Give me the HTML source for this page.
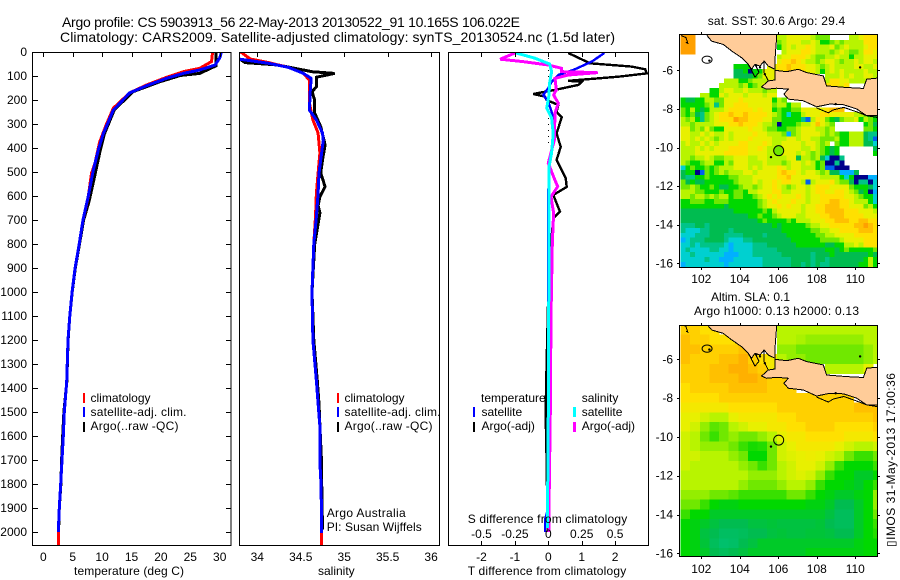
<!DOCTYPE html>
<html lang="en">
<head>
<meta charset="utf-8">
<title>Argo profile</title>
<style>
html,body{margin:0;padding:0;background:#fff;}
svg{display:block;}
text{font-family:"Liberation Sans",Arial,sans-serif;font-size:12px;fill:#000;}
</style>
</head>
<body>
<svg id="plot" xmlns="http://www.w3.org/2000/svg" width="900" height="580" viewBox="0 0 900 580">
<defs>
<clipPath id="clip-temp"><rect x="33" y="53" width="198" height="492"/></clipPath>
<clipPath id="clip-sal"><rect x="240" y="53" width="199" height="492"/></clipPath>
<clipPath id="clip-diff"><rect x="449" y="53" width="199" height="492"/></clipPath>
<clipPath id="clip-sst"><rect x="680" y="35" width="197" height="232"/></clipPath>
<clipPath id="clip-sla"><rect x="680" y="326" width="197" height="230"/></clipPath>
</defs>
<rect width="900" height="580" fill="#fff"/>
<text x="62" y="27" font-size="14" style="font-size:14px" textLength="458" lengthAdjust="spacing">Argo profile: CS 5903913_56 22-May-2013 20130522_91 10.165S 106.022E</text>
<text x="60" y="42" style="font-size:14px" textLength="555" lengthAdjust="spacing">Climatology: CARS2009. Satellite-adjusted climatology: synTS_20130524.nc (1.5d later)</text>

<g id="g-temp"></g>
<g id="g-sal"></g>
<g id="g-diff"></g>
<g id="g-sst"></g>
<g id="g-sla"></g>

<text x="74" y="575" textLength="110" lengthAdjust="spacing">temperature (deg C)</text>
<text x="318" y="575">salinity</text>
<text x="467.7" y="523" textLength="159.5" lengthAdjust="spacing">S difference from climatology</text>
<text x="467.7" y="575" textLength="158.5" lengthAdjust="spacing">T difference from climatology</text>

<g>
<rect x="83" y="393" width="2" height="10" fill="#ff0000"/>
<rect x="83" y="407" width="2" height="10" fill="#0000ff"/>
<rect x="83" y="422" width="2" height="10" fill="#000"/>
<text x="90.5" y="402">climatology</text>
<text x="90.5" y="416" textLength="96" lengthAdjust="spacing">satellite-adj. clim.</text>
<text x="90.5" y="430" textLength="88" lengthAdjust="spacing">Argo(..raw -QC)</text>
</g>
<g>
<rect x="337" y="393" width="2" height="10" fill="#ff0000"/>
<rect x="337" y="407" width="2" height="10" fill="#0000ff"/>
<rect x="337" y="422" width="2" height="10" fill="#000"/>
<text x="344.5" y="402">climatology</text>
<text x="344.5" y="416" textLength="96" lengthAdjust="spacing">satellite-adj. clim.</text>
<text x="344.5" y="430" textLength="88" lengthAdjust="spacing">Argo(..raw -QC)</text>
</g>
<text x="326.7" y="517" textLength="79" lengthAdjust="spacing">Argo Australia</text>
<text x="326.7" y="531" textLength="95" lengthAdjust="spacing">PI: Susan Wijffels</text>

<g id="diff-legend">
<text x="481" y="402">temperature</text>
<rect x="473" y="407" width="2" height="10" fill="#0000ff"/>
<rect x="473" y="422" width="2" height="10" fill="#000"/>
<text x="481.5" y="416">satellite</text>
<text x="481.5" y="430">Argo(-adj)</text>
<text x="581.7" y="402">salinity</text>
<rect x="573" y="407" width="3" height="10" fill="#00ffff"/>
<rect x="573" y="422" width="3" height="10" fill="#ff00ff"/>
<text x="581.7" y="416">satellite</text>
<text x="581.7" y="430">Argo(-adj)</text>
</g>

<text x="707.7" y="25" textLength="137.5" lengthAdjust="spacing">sat. SST: 30.6  Argo: 29.4</text>
<text x="711" y="301" textLength="79" lengthAdjust="spacing">Altim. SLA: 0.1</text>
<text x="694" y="315" textLength="165" lengthAdjust="spacing">Argo h1000: 0.13 h2000: 0.13</text>
<text transform="translate(895,547) rotate(-90)" textLength="174" lengthAdjust="spacing" style="font-family:'Liberation Sans','DejaVu Sans',sans-serif">▯IMOS 31-May-2013 17:00:36</text>
</svg>

<script>
const depthTicks = [0,100,200,300,400,500,600,700,800,900,1000,1100,1200,1300,1400,1500,1600,1700,1800,1900,2000];
const tempTicks = [0,5,10,15,20,25,30];
const salTicks = [34,34.5,35,35.5,36];
const salTickLabels = ['34','34.5','35','35.5','36'];
const tDiffTicks = [-2,-1,0,1,2];
const sDiffTicks = [-0.5,-0.25,0,0.25,0.5];
const sDiffTickLabels = ['-0.5','-0.25','0','0.25','0.5'];
const lonTicks = [102,104,106,108,110];
const latTicks = [-6,-8,-10,-12,-14,-16];

const climTempDepth = [0,40,68,82,105,137,170,234,297,374,463,505,603,700,800,900,1000,1100,1200,1374,1500,1600,1700,1800,1900,2000,2054];
const climTempValue = [28.8,28.6,26.6,23.8,21,17.6,14.7,11.9,10.8,9.6,8.8,8.2,7.65,6.75,6.1,5.4,4.9,4.5,4.2,3.98,3.57,3.4,3.18,2.96,2.72,2.55,2.55];
const satTempDepth = [0,25,54,75,89,109,140,170,242,340,408,492,600,700,800,900,1000,1100,1200,1374,1500,1600,1700,1800,1900,2000];
const satTempValue = [30.3,30,29.2,26.6,23.8,21,17.6,14.7,11.9,10.2,9.35,8.5,7.65,6.75,6.1,5.4,4.9,4.5,4.2,3.98,3.57,3.4,3.18,2.96,2.72,2.55];
const argoTempDepth = [0,57,89,98,124,165,240,340,420,520,620,700,800,900,1000,1100,1200,1374,1500,1600,1700,1800,1900,1990];
const argoTempValue = [29.4,29.4,26.6,23.3,19.8,15.3,12.1,10.4,9.6,8.7,7.8,6.85,6.15,5.45,4.92,4.5,4.22,4,3.5,3.3,3.12,3,2.72,2.6];

const climSalDepth = [0,29,44,64,89,117,213,283,338,421,505,588,686,800,1000,1200,1370,1465,1560,1715,1770,1922,2054];
const climSalValue = [33.81,33.92,34.13,34.36,34.53,34.6,34.6,34.64,34.7,34.72,34.7,34.68,34.67,34.65,34.63,34.64,34.68,34.7,34.72,34.72,34.73,34.74,34.74];
const satSalDepth = [30,47,64,89,110,158,242,283,338,367,450,505,588,686,800,1000,1200,1370,1465,1560,1715,1770,1922,2004];
const satSalValue = [33.8,34.13,34.36,34.53,34.62,34.61,34.6,34.68,34.75,34.76,34.73,34.71,34.7,34.68,34.65,34.63,34.64,34.68,34.7,34.72,34.72,34.73,34.74,34.74];
const argoSalDepth = [30,44,54,68,82,89,105,145,165,200,255,311,387,450,505,561,603,640,671,800,1000,1200,1370,1465,1560,1715,1770,1990];
const argoSalValue = [33.8,33.86,34.24,34.43,34.63,34.89,34.68,34.68,34.63,34.66,34.66,34.73,34.78,34.75,34.73,34.78,34.72,34.7,34.72,34.66,34.63,34.65,34.69,34.71,34.72,34.74,34.74,34.75];

const argoDiffDepth = [4,47,61,72,89,103,120,124,137,155,175,186,200,221,249,272,339,395,450,526,562,596,665,692,800,1000,1300,1500,1700,2000];
const argoDiffValue = [0.6,1.25,2.5,2.9,2.95,2.1,0.6,1,0.9,0.3,-0.45,-0.1,-0.05,0.3,0.25,0.4,0.25,0.37,0.25,0.52,0.55,0.15,0.35,0.15,0.08,0,-0.05,-0.08,-0.05,-0.02];
const satDiffDepth = [4,40,75,96,124,150,179,207,249,311,380,463,600,1000,1900,1950,2000];
const satDiffValue = [1.68,1.3,0.75,0.3,0.1,0,-0.15,0,0.1,0.2,0.15,0.02,0,0,0,-0.1,-0.1];
const argoSalDiffDepth = [4,30,40,54,68,82,86,96,110,158,179,213,255,367,463,520,561,603,671,800,1100,1500,1900,2000];
const argoSalDiffValue = [-0.25,-0.36,-0.19,0,0.1,0.1,0.37,0.15,0.05,0.06,0.04,0.075,0.05,0.045,0,0.04,0.07,0.02,0.04,0.03,0.02,0.015,0.005,0.005];
const satSalDiffDepth = [4,26,50,82,130,180,234,275,339,421,479,800,1500,1983];
const satSalDiffValue = [-0.24,-0.1,0.01,0.025,0.01,0.005,-0.012,0.025,0.037,0.025,0.005,0.005,0,-0.007];
const zeroLineDepths = [0,400];
const zeroLineValues = [0,0];

const sumatraLon = [102.36,102.54,103.14,103.58,104.1,104.44,104.61,104.79,105.05,105.26,105.48,105.83,105.83,105.91,105.91,102.2];
const sumatraLat = [-4.28,-4.49,-4.66,-5,-5.35,-5.69,-5.95,-5.69,-5.78,-5.52,-5.78,-5.95,-5.43,-4.32,-4,-4];
const javaLon = [105.83,106.43,107.04,107.47,108.34,108.51,109.55,110.42,110.59,111.11,111.3,111.3,110.59,110.07,109.38,108.68,107.99,107.3,106.52,106.29,106.52,105.91,105.39,105.13,105.48,105.83];
const javaLat = [-6,-6.07,-5.95,-6.12,-6.29,-6.81,-6.89,-6.94,-6.46,-6.41,-6.41,-8.35,-8.35,-8,-7.78,-7.75,-7.89,-7.58,-7.49,-7.23,-6.98,-6.93,-6.98,-6.86,-6.55,-6.5];
const southCoastLon = [107.99,108.6,108.85,109.4,110.07,110.6,111.2];
const southCoastLat = [-7.95,-8.2,-8.05,-7.92,-8.15,-8.35,-8.45];
const straitCoastLon = [105.26,105.26,105.48,105.13];
const straitCoastLat = [-5.52,-6.12,-6.55,-6.86];
const bayCoastLon = [104.44,104.79,105,104.79];
const bayCoastLat = [-5.69,-6.35,-6.1,-5.69];
const nwCoastLon = [100.95,101.2,101.3,101.2];
const nwCoastLat = [-4.2,-4.3,-4.6,-4.55];
const blobLon = [102.42,104.85,105.05,105.62,108.98,110.25,105.3];
const blobLat = [-5.5,-5.75,-5.85,-10.5,-7.75,-5.85,-6.2];
const argoLon = [106.02];
const argoLat = [-10.165];
const islandLon = [102.3];
const islandLat = [-5.45];

const paletteStops = ['#00008b','#0060f0','#00b0ff','#00d0d0','#00c488','#00bc50','#00d800','#70e800','#b8f400','#e8f000','#ffe000','#ffc000','#ffa000'];

const _ = null;
const sstLevels = [
[12,12,12,_,_,_,_,_,_,_,_,_,_,_,_,_,_,_,_,_,8,8,9,9,9,9,9,8,7,7,7,_,_,_,_,8,8,9,10,10,10],
[12,12,12,_,_,_,_,_,_,_,_,_,_,_,_,_,_,_,_,_,7,8,9,9,9,8,8,9,8,6,6,7,8,7,8,8,8,8,10,10,10],
[12,12,12,_,_,_,_,_,_,_,_,_,_,_,_,_,_,_,_,_,6,8,9,8,9,9,10,9,8,8,8,9,7,8,9,8,8,8,9,10,10],
[12,12,12,_,_,_,_,_,_,_,_,_,_,_,_,_,_,_,_,_,_,8,9,9,9,10,10,9,8,8,8,7,8,9,8,7,7,8,10,10,9],
[_,_,_,_,_,_,_,_,_,_,_,_,_,_,_,_,_,_,_,_,8,9,9,10,10,10,9,8,7,7,8,8,9,8,8,6,8,8,9,9,9],
[_,_,_,_,_,_,_,_,_,_,_,_,_,_,_,_,_,_,_,_,9,10,10,11,10,9,8,8,7,8,9,9,8,7,8,8,9,8,9,9,8],
[_,_,_,_,_,_,_,_,_,_,_,6,6,6,6,_,_,_,9,9,10,10,11,10,10,10,9,9,8,7,8,9,8,8,8,8,9,9,8,8,9],
[_,_,_,_,_,_,_,_,_,_,_,5,5,6,0,6,6,9,9,9,10,10,11,10,10,10,9,9,8,6,8,9,8,9,8,8,8,8,9,8,8],
[_,_,_,_,_,_,_,_,_,_,_,5,5,5,5,6,7,9,9,9,_,_,_,_,_,_,_,_,_,_,8,8,8,9,8,9,8,8,9,9,8],
[_,_,_,_,_,_,_,_,_,8,8,8,6,6,7,8,8,8,9,9,_,_,_,_,_,_,_,_,_,_,8,10,10,9,9,8,8,8,8,_,_],
[_,_,_,_,_,_,_,_,8,8,8,8,7,8,6,7,8,9,9,9,_,_,_,_,_,_,_,_,_,_,10,10,10,9,10,_,_,_,_,_,_],
[_,_,_,_,_,_,6,6,8,9,9,8,8,9,8,8,8,7,8,8,_,_,_,_,_,_,_,_,_,_,_,_,_,_,_,_,_,_,_,_,_],
[_,_,_,_,8,8,6,6,9,8,9,9,9,8,9,9,9,8,9,9,_,_,_,_,_,_,_,_,_,_,_,_,_,_,_,_,_,_,_,_,_],
[6,5,5,6,6,8,8,7,7,9,9,9,10,9,9,9,9,9,9,6,8,7,_,_,_,_,_,_,_,_,_,_,_,_,_,_,_,_,_,_,_],
[6,6,6,6,6,7,8,4,7,9,9,10,10,10,9,9,9,9,9,7,8,8,6,8,8,_,_,_,_,_,_,_,_,_,_,_,_,_,_,_,_],
[7,6,8,6,5,6,8,8,8,9,10,10,10,10,10,9,10,9,9,6,7,6,6,7,7,9,9,9,9,9,10,11,11,11,_,_,_,_,_,_,_],
[7,6,7,5,4,7,8,9,10,10,11,10,10,11,10,10,10,10,9,8,7,6,3,6,6,8,9,9,9,10,10,9,9,9,9,9,8,8,7,6,6],
[8,7,8,6,4,7,8,9,10,10,10,12,11,11,10,10,10,9,9,7,7,6,6,6,6,4,1,8,10,9,7,6,5,7,8,8,9,6,8,7,6],
[8,8,7,8,8,8,8,9,9,9,10,10,11,10,10,10,9,8,8,7,0,6,6,6,7,8,8,9,11,9,8,7,_,_,_,_,_,_,6,7,5],
[9,9,7,8,7,9,7,6,6,9,9,9,9,9,10,9,9,8,7,7,6,6,7,7,8,9,9,9,8,8,7,8,_,_,_,_,_,_,7,7,6],
[9,9,8,8,9,8,9,8,8,9,8,9,9,9,9,10,9,9,8,8,8,7,2,7,8,9,9,9,9,8,7,8,7,6,6,8,8,8,5,4,4],
[9,9,8,9,8,9,8,7,8,9,8,9,9,9,10,9,9,9,9,8,8,8,9,9,8,9,9,8,8,7,7,7,8,6,6,8,8,8,5,4,1],
[8,9,8,8,9,8,9,8,9,9,9,9,10,10,9,9,9,10,9,8,8,9,9,9,9,8,9,9,8,7,8,_,7,6,6,8,8,8,5,5,3],
[8,8,8,9,8,9,8,9,9,9,10,10,10,10,9,9,10,9,8,8,8,9,9,9,9,8,8,9,8,7,6,5,6,_,_,_,_,_,_,_,5],
[8,8,8,9,9,9,9,9,9,10,10,10,10,10,9,9,9,9,8,8,7,9,9,9,8,9,8,7,8,7,6,5,6,_,_,_,_,_,_,_,6],
[8,8,7,8,8,9,8,7,7,8,8,9,9,9,8,8,9,9,8,8,8,8,9,9,5,8,8,7,8,5,3,0,0,4,_,_,_,_,_,_,_],
[8,7,6,6,7,8,8,6,6,8,7,9,9,9,8,8,8,9,8,8,8,7,8,9,9,8,9,8,6,7,0,0,4,0,_,_,_,_,_,_,_],
[3,6,7,6,6,7,6,7,8,8,8,9,9,9,8,9,8,9,9,9,10,9,8,9,9,8,8,8,6,7,1,1,0,0,0,_,_,_,_,_,_],
[5,6,6,0,1,7,6,7,8,7,8,8,8,9,9,8,9,9,9,9,10,11,10,10,9,8,9,9,8,7,8,5,5,2,2,2,5,_,_,_,_],
[5,4,4,6,6,7,6,6,6,6,7,7,8,8,8,9,9,9,9,9,10,10,11,9,9,9,9,9,9,8,8,8,8,6,3,6,0,0,0,2,2],
[7,5,6,5,5,6,6,6,6,6,6,7,8,8,8,9,8,9,9,10,9,10,10,9,9,8,1,8,9,9,9,10,8,7,7,5,0,4,4,0,3],
[7,7,8,7,6,6,7,6,5,5,6,6,7,8,8,7,8,9,9,10,9,8,7,8,9,9,8,9,10,10,10,9,9,9,9,7,6,6,6,5,3],
[8,8,8,7,7,6,6,6,7,6,6,7,7,6,8,8,9,9,9,10,10,8,8,9,9,9,8,9,10,10,9,9,10,10,9,8,7,5,6,0,2],
[8,8,7,8,8,7,8,7,8,8,6,7,7,6,6,7,8,9,10,9,10,9,9,9,10,9,8,9,9,10,10,10,10,10,9,9,8,7,6,6,3],
[6,6,7,7,7,6,6,7,7,7,6,6,6,6,6,6,7,8,9,10,9,9,9,10,9,9,8,9,9,10,10,11,11,10,10,9,8,8,8,6,3],
[6,6,6,6,6,6,6,6,6,5,6,6,6,6,6,6,7,8,9,9,10,9,10,9,9,8,9,9,10,10,11,11,11,10,10,9,9,9,7,8,6],
[5,5,5,5,5,5,5,5,5,5,5,6,6,6,6,6,6,7,6,8,9,9,9,9,9,8,9,9,10,10,11,11,11,11,10,10,10,9,9,9,8],
[5,5,5,5,5,5,5,5,5,5,5,5,5,5,6,6,7,6,6,7,8,9,9,9,8,8,9,9,9,10,10,11,11,11,10,10,10,10,9,9,9],
[5,5,5,5,5,5,5,5,5,5,5,5,5,5,5,5,6,7,6,6,6,6,7,6,8,8,8,9,9,9,10,10,11,11,11,10,10,11,11,10,10],
[4,4,4,5,5,4,5,5,5,5,5,5,5,5,5,5,5,5,5,6,5,6,6,6,6,6,7,8,8,9,9,10,10,10,10,10,11,11,12,11,10],
[4,3,3,3,4,4,5,5,5,5,4,5,5,5,5,5,5,5,5,5,5,6,6,6,6,6,6,7,7,8,8,9,9,10,10,10,10,11,11,11,10],
[3,3,3,4,4,4,5,5,5,4,4,4,4,5,5,5,5,4,5,5,5,5,6,6,6,6,6,6,7,7,8,8,9,9,9,9,10,10,10,10,10],
[2,3,4,4,4,5,5,5,5,4,3,3,3,4,4,5,5,5,5,5,5,5,5,6,6,6,6,6,6,7,7,7,7,8,9,9,9,9,10,10,10],
[3,3,4,3,4,4,4,4,4,3,2,3,3,3,3,4,4,4,5,5,5,5,5,5,6,6,6,6,6,6,5,5,6,6,8,8,9,8,10,10,10],
[3,4,3,3,3,3,4,4,3,3,2,3,3,3,3,4,4,4,4,4,5,5,5,5,5,5,5,5,5,5,6,6,5,6,7,6,6,6,6,6,7],
[3,3,4,3,3,3,3,3,3,2,2,2,3,3,3,4,4,4,4,4,4,5,5,5,5,5,5,4,5,5,5,6,5,5,5,5,5,5,5,6,5],
[3,3,3,3,3,4,3,3,2,2,2,3,3,3,3,3,3,4,4,4,4,4,4,5,5,5,5,4,5,5,4,5,5,5,5,5,5,5,6,8,6],
[2,3,3,3,3,3,3,3,3,2,3,3,3,3,3,3,3,4,4,4,4,4,4,5,5,4,5,4,5,4,4,5,5,5,5,5,5,6,6,8,6]
];
const slaLevels = [
[10.5,10.5,10,10,_,_,_,_,_,_,8,8,8,8,8,8,8,8,8,8,8],
[11,10.5,10.5,10,10,10,_,_,_,_,8,8,7.8,7.5,7.5,7.5,7.5,7.5,7.5,8,8],
[11,11,10.5,10.5,10.5,10.5,11,_,_,_,7.5,7.5,7,7,7,7,7,7,7,7.5,8],
[11,10.5,10.5,10.5,11,11,11.5,10.5,10,9.5,8,7.5,7.5,7,7,7,7,7,7,7.5,8],
[10.5,10.5,10.5,11,11,11.5,11.5,11,10.5,9.5,_,_,_,_,_,8,8,8,8,9,_],
[10.5,10.5,10.5,11,11,11,11.5,11.5,11,10.5,10.5,_,_,_,_,_,_,_,_,_,_],
[10,10.5,10.5,10.5,10.5,11,11,11,11,10.5,10.5,10.5,_,_,_,_,_,_,_,_,_],
[10,10,10,10,10.5,10.5,10.5,10.5,10.5,10.5,10.5,10.5,10.5,10.5,10.5,10.5,10.5,10.5,_,_,_],
[9.5,9.5,9.5,9.5,9.5,10,10,10,10,10,10.5,10.5,10.5,10.5,10.5,10.5,10.5,10.5,11,11,11],
[9,9,8.5,8,8,9,9.5,9.5,9.5,9.5,10,10,10.5,10.5,10.5,10.5,10.5,10.5,10.5,10.5,11],
[9,8.5,7.5,6.8,7,8,8.5,9,9,9.5,9.5,10,10,10.5,10.5,10.5,10,10,10,10,10.5],
[8.5,8,7,6.5,7,7.5,7,7,7.5,8,9,9.5,9.5,10,10,10,10,9.5,9.5,9.5,10],
[8.5,8,7.5,7.5,7.5,7,6.5,6.2,6.3,7,8.5,9,9.5,9.5,9.5,9.5,9,8.5,8,8,8.5],
[8.5,8.5,8,8,8,7.5,7,6,6,7,8.5,8.8,9,9.2,9,8.5,8,7,6.5,6.5,7],
[8.5,8,8,8,8,8,7.5,7,6.5,7,8,8.5,9,9,8.5,7.5,6.5,6,6,6,6.5],
[8,8,8,8,8,8,8,7.5,7.5,7.5,8,8.5,8.8,8.5,7.5,6.5,6,6,5.5,5.5,6],
[8,8,8,8,8,8,7.5,7,7,7,7.5,8,8,7.5,6.5,6,6,5.8,5.5,6,6.5],
[7.5,7.5,7.5,7,7,6.8,6.5,6.5,6.5,6.5,6.5,7,7,6.5,6,5.8,5.5,5.5,5.8,6,7.5],
[7,7,6.5,6,5.8,5.8,6,6,6,6,6,6,6,5.8,5.8,5.5,5,5,5.5,6,7.5],
[6.5,6,6,5.5,5.5,5.5,5.5,5.5,5.5,5.5,5.5,5.5,5.5,5.5,5.5,5.2,4.8,4.8,5.5,6,7],
[6,5.8,5.5,5.2,5,5,5,5.2,5.2,5.3,5.2,5.2,5.2,5.2,5.3,5,4.8,4.8,5.5,6,6.5],
[6,5.8,5.2,5,4.7,4.7,4.8,5,5,5.2,5.3,5.2,5.2,5.3,5.3,5.2,5,5,5.5,6,6.3],
[6,5.8,5.3,4.8,4.5,4.6,5,5.2,5.5,5.5,5.5,5.5,5.5,5.5,5.5,5.5,5.5,5.5,5.8,6,6],
[6,5.8,5.5,5,4.8,5,5.2,5.5,5.5,5.5,5.5,5.5,5.5,5.8,5.8,5.8,5.8,5.8,5.8,6,6]
];

const SVGNS = 'http://www.w3.org/2000/svg';
const yDepth = d => 52 + 0.24 * d;
const xTemp = v => 43.3 + 5.88 * v;
const xSal = v => 257.3 + 86.9 * (v - 34);
const xTDiff = v => 548.3 + 33.4 * v;
const xSDiff = v => 548.3 + 133.6 * v;

function make(tag, attrs, parent) {
  const n = document.createElementNS(SVGNS, tag);
  for (const k in attrs) n.setAttribute(k, attrs[k]);
  parent.appendChild(n);
  return n;
}
function pointsOf(xs, ys, fx, fy) {
  return xs.map((v, i) => fx(v).toFixed(1) + ',' + fy(ys[i]).toFixed(1)).join(' ');
}
function profile(parent, name, values, depths, fx, color, width, clip) {
  const line = make('polyline', {points: pointsOf(values, depths, fx, yDepth), fill: 'none', stroke: color, 'stroke-width': width, 'clip-path': 'url(#' + clip + ')', 'shape-rendering': 'crispEdges'}, parent);
  
  
  return line;
}
function frame(parent, name, x, y, w, h) {
  const r = make('rect', {x: x, y: y, width: w, height: h, fill: 'none', stroke: '#000', 'stroke-width': 1, 'shape-rendering': 'crispEdges'}, parent);
  
  
}
function tick(parent, x1, y1, x2, y2) {
  const t = make('line', {x1: x1, y1: y1, x2: x2, y2: y2, stroke: '#000', 'stroke-width': 1, 'shape-rendering': 'crispEdges'}, parent);
  
  
}
function label(parent, name, x, y, str, anchor) {
  const t = make('text', {x: x, y: y, 'text-anchor': anchor}, parent);
  t.textContent = str;
  
  
}

/* temperature panel */
const gTemp = document.getElementById('g-temp');
profile(gTemp, 'argo-temperature-line', argoTempValue, argoTempDepth, xTemp, '#000', 3, 'clip-temp');
profile(gTemp, 'climatology-temperature-line', climTempValue, climTempDepth, xTemp, '#ff0000', 3, 'clip-temp');
profile(gTemp, 'satellite-temperature-line', satTempValue, satTempDepth, xTemp, '#0000ff', 3, 'clip-temp');
frame(gTemp, 'temperature-frame', 32.5, 52.5, 198.5, 493);
depthTicks.forEach(d => {
  tick(gTemp, 33, Math.round(yDepth(d)) + 0.5, 38, Math.round(yDepth(d)) + 0.5);
  tick(gTemp, 226, Math.round(yDepth(d)) + 0.5, 231, Math.round(yDepth(d)) + 0.5);
  label(gTemp, 'depth-tick-label', 27, yDepth(d) + 4, String(d), 'end');
});
tempTicks.forEach(v => {
  tick(gTemp, Math.round(xTemp(v)) + 0.5, 53, Math.round(xTemp(v)) + 0.5, 57);
  label(gTemp, 'temperature-tick-label', xTemp(v), 561, String(v), 'middle');
});

/* salinity panel */
const gSal = document.getElementById('g-sal');
profile(gSal, 'argo-salinity-line', argoSalValue, argoSalDepth, xSal, '#000', 3, 'clip-sal');
profile(gSal, 'climatology-salinity-line', climSalValue, climSalDepth, xSal, '#ff0000', 3, 'clip-sal');
profile(gSal, 'satellite-salinity-line', satSalValue, satSalDepth, xSal, '#0000ff', 3, 'clip-sal');
frame(gSal, 'salinity-frame', 239.5, 52.5, 200, 493);
salTicks.forEach((v, i) => {
  tick(gSal, Math.round(xSal(v)) + 0.5, 53, Math.round(xSal(v)) + 0.5, 57);
  label(gSal, 'salinity-tick-label', xSal(v), 561, salTickLabels[i], 'middle');
});

/* difference panel */
const gDiff = document.getElementById('g-diff');
const zero = profile(gDiff, 'zero-reference-line', zeroLineValues, zeroLineDepths, xTDiff, '#000', 1, 'clip-diff');
zero.setAttribute('stroke-dasharray', '1 5');
profile(gDiff, 'argo-t-difference-line', argoDiffValue, argoDiffDepth, xTDiff, '#000', 2.4, 'clip-diff');
profile(gDiff, 'satellite-t-difference-line', satDiffValue, satDiffDepth, xTDiff, '#0000ff', 2.4, 'clip-diff');
profile(gDiff, 'argo-s-difference-line', argoSalDiffValue, argoSalDiffDepth, xSDiff, '#ff00ff', 3, 'clip-diff');
profile(gDiff, 'satellite-s-difference-line', satSalDiffValue, satSalDiffDepth, xSDiff, '#00ffff', 3, 'clip-diff');
frame(gDiff, 'difference-frame', 448.5, 52.5, 200, 493);
tDiffTicks.forEach(v => {
  tick(gDiff, Math.round(xTDiff(v)) + 0.5, 53, Math.round(xTDiff(v)) + 0.5, 57);
  label(gDiff, 't-difference-tick-label', xTDiff(v), 561, String(v), 'middle');
});
sDiffTicks.forEach((v, i) => {
  tick(gDiff, Math.round(xSDiff(v)) + 0.5, 541, Math.round(xSDiff(v)) + 0.5, 545);
  label(gDiff, 's-difference-tick-label', xSDiff(v), 538, sDiffTickLabels[i], 'middle');
});

/* maps */
function levelColor(level) {
  const lo = Math.max(0, Math.min(paletteStops.length - 1, Math.floor(level)));
  const hi = Math.min(paletteStops.length - 1, lo + 1);
  const f = level - lo;
  const a = parseInt(paletteStops[lo].slice(1), 16);
  const b = parseInt(paletteStops[hi].slice(1), 16);
  const mix = s => Math.round(((a >> s) & 255) * (1 - f) + ((b >> s) & 255) * f);
  return 'rgb(' + mix(16) + ',' + mix(8) + ',' + mix(0) + ')';
}
function drawMap(parent, prefix, opts) {
  const xLon = lon => 701.3 + 19.25 * (lon - 102);
  const yLat = lat => opts.y6 + opts.yScale * (-6 - lat);
  const cells = make('g', {'clip-path': 'url(#' + opts.clip + ')', 'shape-rendering': 'crispEdges'}, parent);
  
  
  opts.levels.forEach((row, r) => {
    row.forEach((level, c) => {
      if (level === null || level === undefined) return;
      const lonL = opts.lon0 + opts.step * c;
      const latT = opts.lat0 - opts.step * r;
      const cell = make('rect', {x: xLon(lonL).toFixed(2), y: yLat(latT).toFixed(2), width: (19.25 * opts.step + 0.4).toFixed(2), height: (opts.yScale * opts.step + 0.4).toFixed(2), fill: levelColor(level)}, cells);
      
      
    });
  });
  const geo = make('g', {'clip-path': 'url(#' + opts.clip + ')'}, parent);
  
  
  const sumatra = make('polygon', {points: pointsOf(sumatraLon, sumatraLat, xLon, yLat), fill: '#ffcc99', stroke: '#000', 'stroke-width': 1, 'shape-rendering': 'crispEdges'}, geo);
  
  
  const java = make('polygon', {points: pointsOf(javaLon, javaLat, xLon, yLat), fill: '#ffcc99', stroke: '#000', 'stroke-width': 1, 'shape-rendering': 'crispEdges'}, geo);
  
  
  [[southCoastLon, southCoastLat, 'south-java-coast'], [straitCoastLon, straitCoastLat, 'sunda-strait-coast'], [bayCoastLon, bayCoastLat, 'sumatra-bay-coast'], [nwCoastLon, nwCoastLat, 'northwest-coast']].forEach(s => {
    const pl = make('polyline', {points: pointsOf(s[0], s[1], xLon, yLat), fill: 'none', stroke: '#000', 'stroke-width': 1, 'shape-rendering': 'crispEdges'}, geo);
    
    
  });
  blobLon.forEach((lon, i) => {
    const b = make('circle', {cx: xLon(lon), cy: yLat(blobLat[i]), r: 1.2, fill: '#000'}, geo);
    
    
  });
  islandLon.forEach((lon, i) => {
    const e = make('ellipse', {cx: xLon(lon), cy: yLat(islandLat[i]), rx: 5, ry: 3.6, fill: 'none', stroke: '#000', 'stroke-width': 1}, geo);
    
    
  });
  argoLon.forEach((lon, i) => {
    const m = make('circle', {cx: xLon(lon), cy: yLat(argoLat[i]), r: 5, fill: opts.markerFill, stroke: '#000', 'stroke-width': 1}, parent);
    
    
  });
  frame(parent, prefix + '-frame', 679.5, opts.top + 0.5, 198, opts.bottom - opts.top);
  lonTicks.forEach(v => {
    const px = Math.round(xLon(v)) + 0.5;
    tick(parent, px, opts.top - 2, px, opts.top);
    tick(parent, px, opts.bottom + 1, px, opts.bottom + 3);
    label(parent, prefix + '-longitude-label', xLon(v), opts.xLabelY, String(v), 'middle');
  });
  latTicks.forEach(v => {
    const py = Math.round(yLat(v)) + 0.5;
    tick(parent, 677, py, 679, py);
    tick(parent, 878, py, 880, py);
    label(parent, prefix + '-latitude-label', 673, yLat(v) + 4, String(v), 'end');
  });
}
drawMap(document.getElementById('g-sst'), 'sst', {levels: sstLevels, lon0: 100.92, lat0: -4.17, step: 0.25, y6: 70.3, yScale: 19.3, clip: 'clip-sst', top: 34, bottom: 267, xLabelY: 283, markerFill: levelColor(7)});
drawMap(document.getElementById('g-sla'), 'sla', {levels: slaLevels, lon0: 100.92, lat0: -4.23, step: 0.5, y6: 359.3, yScale: 19.4, clip: 'clip-sla', top: 325, bottom: 556, xLabelY: 573, markerFill: 'none'});
</script>
</body>
</html>
